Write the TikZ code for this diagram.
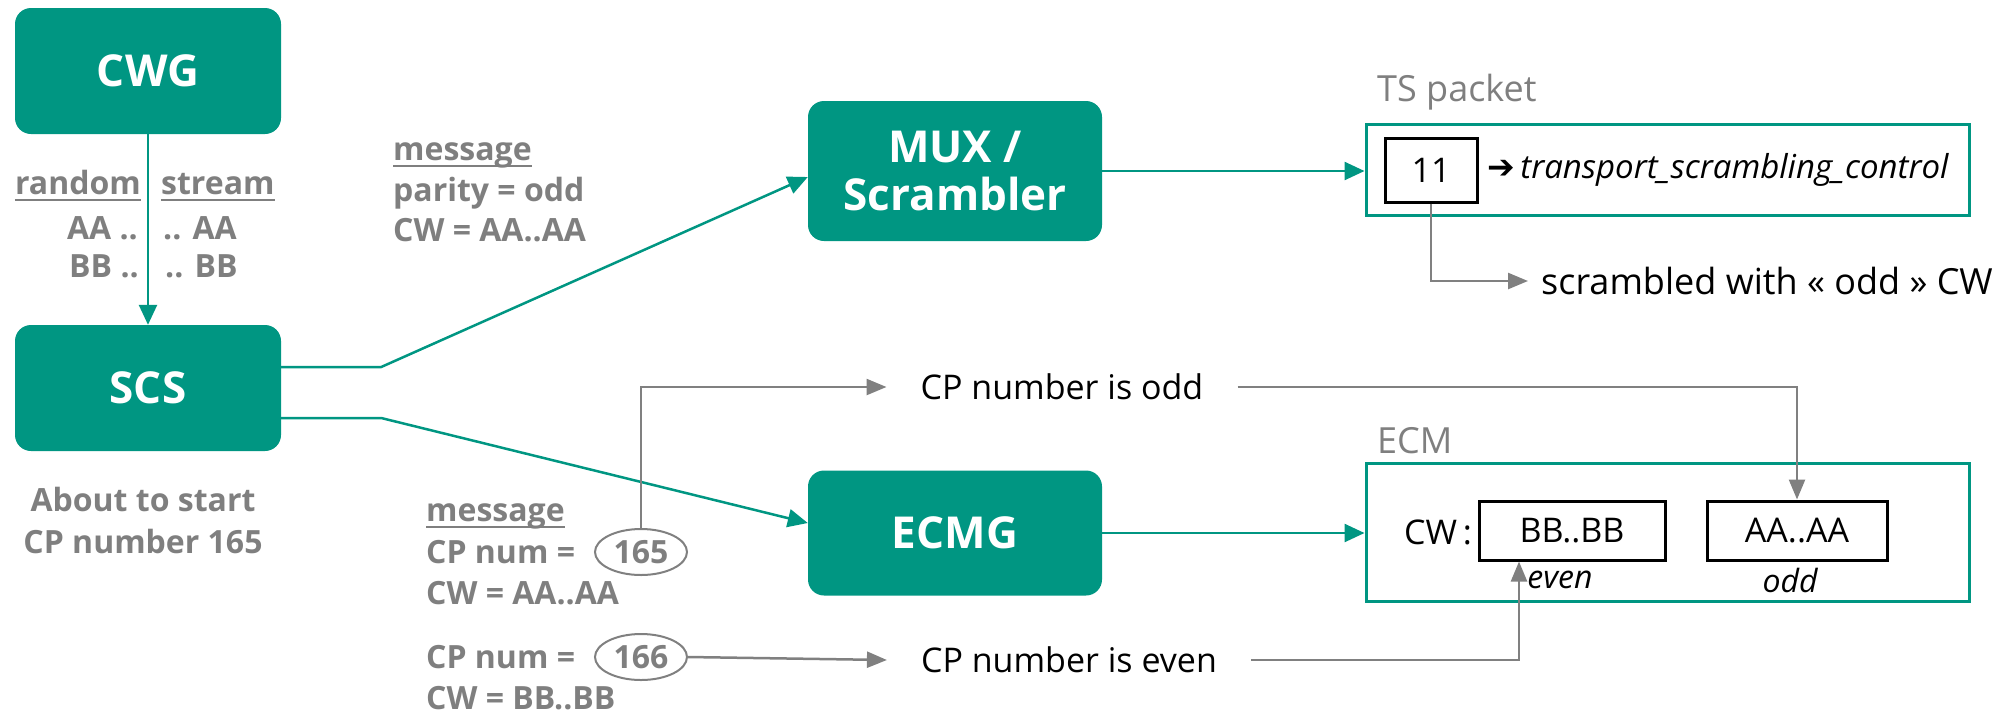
\documentclass[tikz,border=0pt]{standalone}
\usepackage{fontspec}
\setmainfont{Open Sans}
\newfontfamily\dejavu{DejaVu Sans}
\usetikzlibrary{arrows.meta,shapes.geometric,calc}
\definecolor{teal1}{RGB}{0,150,130}
\definecolor{gtext}{RGB}{127,127,127}
\definecolor{glin}{RGB}{128,128,128}
\tikzset{
  gbox/.style={fill=teal1, rounded corners=16pt, text=white, align=center, inner sep=0pt,
    font=\fontsize{44}{48}\selectfont\bfseries},
  tarrow/.style={draw=teal1, line width=2.5pt, -{Triangle[length=20pt,width=18pt]}},
  garrow/.style={draw=glin, line width=2.5pt, -{Triangle[length=20pt,width=16pt]}},
  glabel/.style={text=gtext, inner sep=0pt, font=\fontsize{32}{42}\selectfont\bfseries},
  btext/.style={text=black, inner sep=0pt, font=\fontsize{34}{40}\selectfont},
  ititle/.style={text=gtext, inner sep=0pt, font=\fontsize{36}{40}\selectfont},
  wbox/.style={draw=black, line width=3pt, inner sep=0pt, font=\fontsize{34}{40}\selectfont},
  frm/.style={draw=teal1, line width=3pt, inner sep=0pt},
  oval/.style={ellipse, draw=glin, line width=2pt, inner sep=0pt, text=gtext,
    minimum width=92pt, minimum height=46pt, font=\fontsize{32}{36}\selectfont\bfseries},
  uline/.style={draw=gtext, line width=2pt}
}
\begin{document}
\begin{tikzpicture}[x=1pt,y=-1pt]
\useasboundingbox (0,0) rectangle (2005,716);

% main boxes
\node[gbox, minimum width=266pt, minimum height=126pt] (cwg) at (148,71) {CWG};
\node[gbox, minimum width=266pt, minimum height=126pt] (scs) at (148,388) {SCS};
\node[gbox, minimum width=294pt, minimum height=140pt] (mux) at (955,171) {MUX /\\Scrambler};
\node[gbox, minimum width=294pt, minimum height=125pt] (ecmg) at (955,533) {ECMG};

% CWG -> SCS
\draw[tarrow] (cwg.south) -- (scs.north);
\node[glabel, anchor=base east] (rnd) at (141,194) {random};
\node[glabel, anchor=base west] (str) at (161,194) {stream};
\draw[uline] ([yshift=-6pt]rnd.base west) -- ([yshift=-6pt]rnd.base east);
\draw[uline] ([yshift=-6pt]str.base west) -- ([yshift=-6pt]str.base east);
\node[glabel, anchor=base east] (aa1) at (138,239) {AA ..};
\node[glabel, anchor=base west] (aa2) at (163,239) {.. AA};
\node[glabel, anchor=base east] (bb1) at (139,277) {BB ..};
\node[glabel, anchor=base west] (bb2) at (165,277) {.. BB};

% SCS caption
\node[glabel, align=center] (about) at (143,520) {About to start\\CP number 165};

% SCS -> MUX, SCS -> ECMG
\draw[tarrow] ([yshift=21pt]scs.east) -- ++(100,0) -- ([yshift=-6pt]mux.west);
\draw[tarrow] ([yshift=-30pt]scs.east) -- ++(100,0) -- ([yshift=10pt]ecmg.west);

% top message
\node[glabel, anchor=base west] (m1) at (393,160) {message};
\draw[uline] ([yshift=-6pt]m1.base west) -- ([yshift=-6pt]m1.base east);
\node[glabel, anchor=base west] (par) at (393,201) {parity = odd};
\node[glabel, anchor=base west] (cwa) at (393,241) {CW = AA..AA};

% lower message
\node[glabel, anchor=base west] (m2) at (426,521) {message};
\draw[uline] ([yshift=-6pt]m2.base west) -- ([yshift=-6pt]m2.base east);
\node[glabel, anchor=base west] (cpn1) at (426,563) {CP num =};
\node[oval] (e165) at (641,552) {165};
\node[glabel, anchor=base west] (cw1) at (426,604) {CW = AA..AA};
\node[glabel, anchor=base west] (cpn2) at (426,668) {CP num =};
\node[oval] (e166) at (641,657) {166};
\node[glabel, anchor=base west] (cw2) at (426,709) {CW = BB..BB};

% TS packet
\node[ititle, anchor=west] (tslbl) at (1377,92) {TS packet};
\node[frm, minimum width=603pt, minimum height=91pt] (ts) at (1667.5,169.5) {};
\node[wbox, minimum width=92pt, minimum height=64pt] (b11) at (1431,170) {11};
\node[btext, anchor=west, font=\fontsize{33}{36}\selectfont] (tsc) at (1487,170) {{\dejavu ➔}\,\textit{transport\_scrambling\_control}};
\draw[tarrow] (mux.east) -- (mux.east -| ts.west);
\node[btext, anchor=west, inner xsep=13pt, font=\fontsize{36}{40}\selectfont] (scr) at (1528,281) {scrambled with « odd » CW};
\draw[garrow] (b11.south) |- (scr.west);

% ECM
\node[ititle, anchor=west] (ecmlbl) at (1377,441) {ECM};
\node[frm, minimum width=603pt, minimum height=138pt] (ecm) at (1667.5,532) {};
\node[btext, anchor=west] (cwl) at (1404,532) {CW\,:};
\node[wbox, minimum width=186pt, minimum height=59pt] (bbb) at (1572,530.5) {BB..BB};
\node[wbox, minimum width=180pt, minimum height=59pt] (aab) at (1797,530.5) {AA..AA};
\node[btext, font=\fontsize{32}{36}\selectfont\itshape] (evn) at (1560,580) {even};
\node[btext, font=\fontsize{32}{36}\selectfont\itshape] (odd) at (1790,580) {odd};
\draw[tarrow] (ecmg.east) -- (ecmg.east -| ecm.west);

% CP number texts
\node[btext, inner xsep=34pt] (oddt) at (1062,387) {CP number is odd};
\node[btext, inner xsep=34pt] (event) at (1069,660) {CP number is even};
\draw[garrow] (e165.north) |- (oddt.west);
\draw[garrow] (oddt.east) -| (aab.north);
\draw[garrow] (e166.east) -- (event.west);
\draw[garrow] (event.east) -| ([xshift=-53pt]bbb.south);
\end{tikzpicture}
\end{document}
